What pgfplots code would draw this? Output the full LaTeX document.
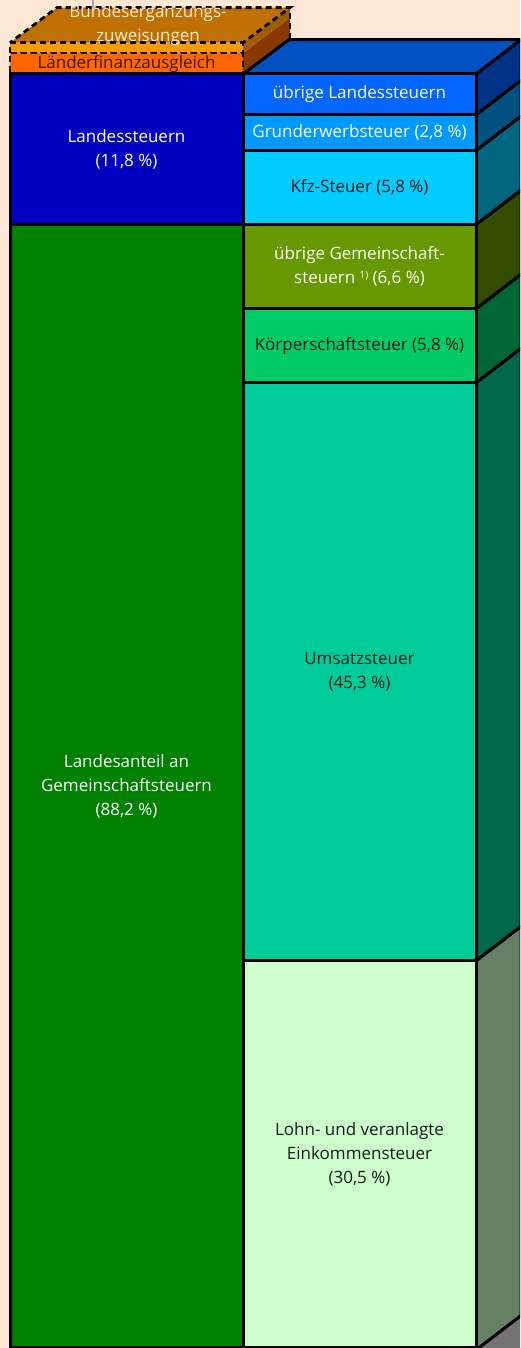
\documentclass[border=0pt]{standalone}
\usepackage{pgfplots}
\pgfplotsset{compat=1.18}
\usepackage{fontspec}
\setmainfont{Open Sans}
\definecolor{bg}{HTML}{FDE8D6}
\definecolor{cLanteil}{HTML}{008000}
\definecolor{cLst}{HTML}{0000C0}
\definecolor{cLFA}{HTML}{FF6600}
\definecolor{cBEZ}{HTML}{FF9900}
\definecolor{cBEZtop}{HTML}{BF7000}
\definecolor{cBEZside}{HTML}{A05C00}
\definecolor{cLFAside}{HTML}{8A3800}
\definecolor{cLohn}{HTML}{CCFFCC}
\definecolor{cUSt}{HTML}{00CC99}
\definecolor{cKSt}{HTML}{00CC66}
\definecolor{cuGS}{HTML}{669900}
\definecolor{cKfz}{HTML}{00CCFF}
\definecolor{cGrEw}{HTML}{0099FF}
\definecolor{cuL}{HTML}{0066FF}
\definecolor{sLohn}{HTML}{668066}
\definecolor{sUSt}{HTML}{00664C}
\definecolor{sKSt}{HTML}{006633}
\definecolor{suGS}{HTML}{334D00}
\definecolor{sKfz}{HTML}{006680}
\definecolor{sGrEw}{HTML}{005080}
\definecolor{suL}{HTML}{003388}
\definecolor{ctop}{HTML}{0052C2}
\definecolor{dtext}{HTML}{1A1A1A}
\pgfplotsset{base/.style={scale only axis, width=520pt, height=1348pt,
  xmin=0, xmax=520, ymin=0.157, ymax=105.8, hide axis, clip=true},
  face/.style={draw=black, line width=3pt, line join=miter},
  dface/.style={draw=black, line width=2.8pt, dash pattern=on 6pt off 4pt}}
\newcommand{\lbl}{\fontsize{17}{24}\selectfont}
\begin{document}
\begin{tikzpicture}
% --- 3D faces (side and top) ---
\begin{axis}[base]
\fill[bg] (rel axis cs:0,0) rectangle (rel axis cs:1,1);
% floor shadow under right side
\addplot[fill=gray!90!black, draw=none] coordinates {(476,-1) (476,0) (521,2.7) (521,-1)} -- cycle;
% right bar side faces
\addplot[face, fill=sLohn] coordinates {(476,0) (521,2.7) (521,33.2) (476,30.5)} -- cycle;
\addplot[face, fill=sUSt]  coordinates {(476,30.5) (521,33.2) (521,78.5) (476,75.8)} -- cycle;
\addplot[face, fill=sKSt]  coordinates {(476,75.8) (521,78.5) (521,84.3) (476,81.6)} -- cycle;
\addplot[face, fill=suGS]  coordinates {(476,81.6) (521,84.3) (521,90.9) (476,88.2)} -- cycle;
\addplot[face, fill=sKfz]  coordinates {(476,88.2) (521,90.9) (521,96.7) (476,94.0)} -- cycle;
\addplot[face, fill=sGrEw] coordinates {(476,94.0) (521,96.7) (521,99.5) (476,96.8)} -- cycle;
\addplot[face, fill=suL]   coordinates {(476,96.8) (521,99.5) (521,102.7) (476,100)} -- cycle;
% right bar top face
\addplot[face, fill=ctop] coordinates {(243,100) (476,100) (521,102.7) (288,102.7)} -- cycle;
% left bar: side faces of LFA and BEZ, top face of BEZ
\addplot[fill=cLFAside, draw=none] coordinates {(243,100) (243,101.65) (290,104.4) (290,102.75)} -- cycle;
\addplot[fill=cBEZside, draw=none] coordinates {(243,101.65) (243,102.45) (290,105.2) (290,104.4)} -- cycle;
\addplot[dface] coordinates {(290,102.75) (290,105.2)};
\addplot[face] coordinates {(243,100) (290,102.75)};
\addplot[dface, fill=cBEZtop] coordinates {(10,102.45) (243,102.45) (290,105.2) (57,105.2)} -- cycle;
\draw[gray!70, line width=2.5pt] (axis cs:93,105.25) -- (axis cs:93,106);
\end{axis}
% --- left stacked bar ---
\begin{axis}[base, ybar stacked, bar width=233]
\addplot[face, fill=cLanteil] coordinates {(126.5,88.2)};
\addplot[face, fill=cLst] coordinates {(126.5,11.8)};
\addplot[dface, fill=cLFA] coordinates {(126.5,1.65)};
\addplot[dface, fill=cBEZ] coordinates {(126.5,0.8)};
\end{axis}
% --- right stacked bar ---
\begin{axis}[base, ybar stacked, bar width=233]
\addplot[face, fill=cLohn] coordinates {(359.5,30.5)};
\addplot[face, fill=cUSt]  coordinates {(359.5,45.3)};
\addplot[face, fill=cKSt]  coordinates {(359.5,5.8)};
\addplot[face, fill=cuGS]  coordinates {(359.5,6.6)};
\addplot[face, fill=cKfz]  coordinates {(359.5,5.8)};
\addplot[face, fill=cGrEw] coordinates {(359.5,2.8)};
\addplot[face, fill=cuL]   coordinates {(359.5,3.2)};
\end{axis}
% --- labels ---
\begin{axis}[base]
\node[align=center, text=white, font=\lbl] at (axis cs:126.5,94.1) {Landessteuern\\(11,8~\%)};
\node[align=center, text=white, font=\lbl] at (axis cs:126.5,44.2) {Landesanteil an\\Gemeinschaftsteuern\\(88,2~\%)};
\node[align=center, text=white, font=\lbl] at (axis cs:359.5,98.4) {übrige Landessteuern};
\node[align=center, text=white, font=\lbl] at (axis cs:359.5,95.4) {Grunderwerbsteuer (2,8~\%)};
\node[align=center, text=dtext, font=\lbl] at (axis cs:359.5,91.1) {Kfz-Steuer (5,8~\%)};
\node[align=center, text=white, font=\lbl] at (axis cs:359.5,84.9) {übrige Gemeinschaft-\\steuern \raisebox{0.55ex}{\fontsize{10}{10}\selectfont 1)} (6,6~\%)};
\node[align=center, text=dtext, font=\lbl] at (axis cs:359.5,78.7) {Körperschaftsteuer (5,8~\%)};
\node[align=center, text=dtext, font=\lbl] at (axis cs:359.5,53.15) {Umsatzsteuer\\(45,3~\%)};
\node[align=center, text=dtext, font=\lbl] at (axis cs:359.5,15.3) {Lohn- und veranlagte\\Einkommensteuer\\(30,5~\%)};
\node[align=center, text={rgb,255:red,58;green,21;blue,0}, font=\lbl] at (axis cs:126.5,100.75) {Länderfinanzausgleich};
\node[align=center, text={rgb,255:red,255;green,236;blue,210}, font=\lbl] at (axis cs:148,103.84) {Bundesergänzungs-\\zuweisungen};
\end{axis}
\end{tikzpicture}
\end{document}
